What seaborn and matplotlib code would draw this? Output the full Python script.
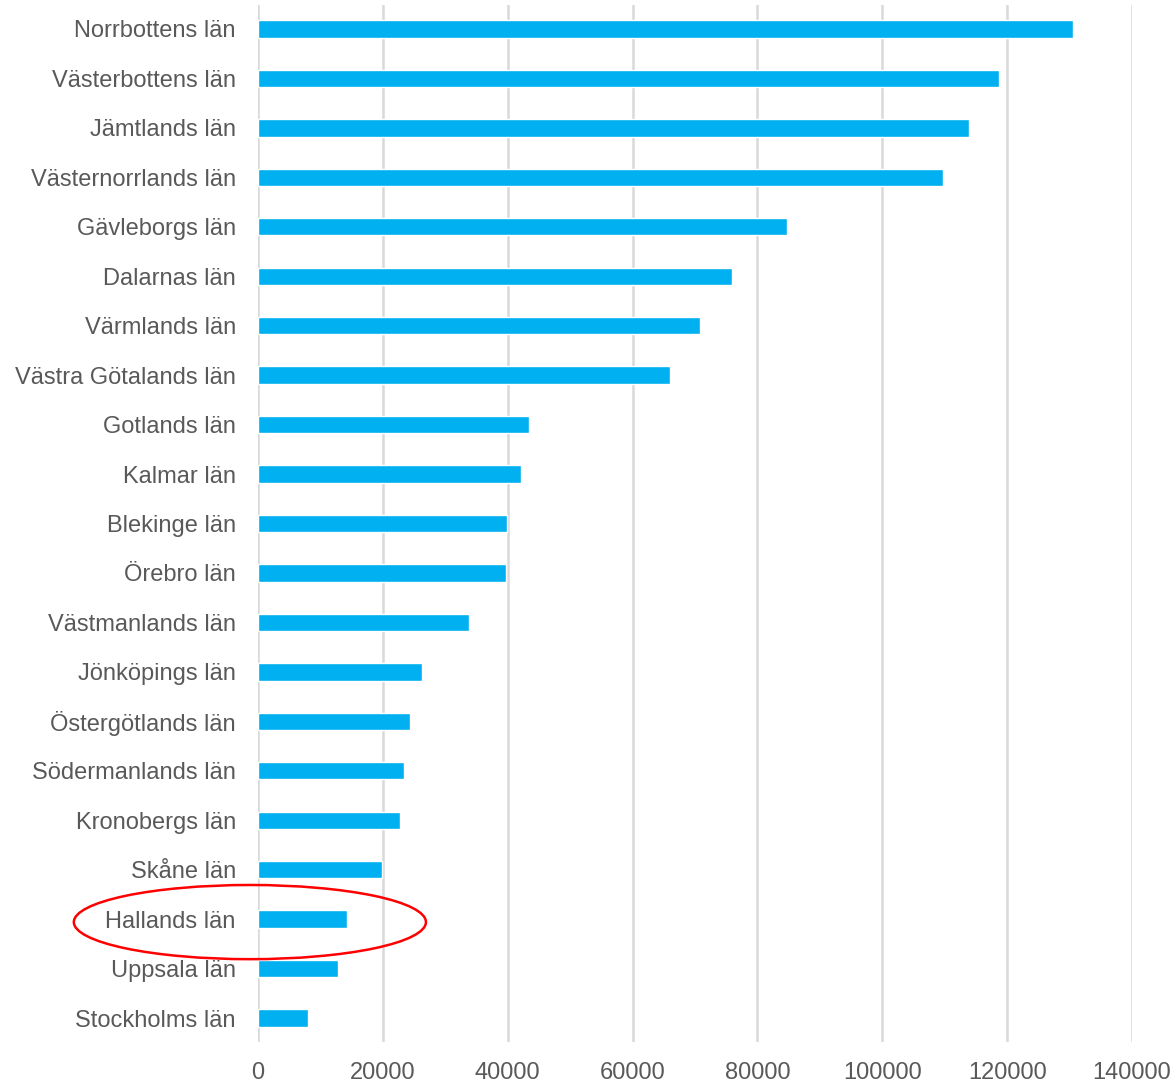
import matplotlib
matplotlib.use("Agg")
import matplotlib.pyplot as plt
from matplotlib.patches import Ellipse
import seaborn as sns
import pandas as pd

counties = [
    "Norrbottens län", "Västerbottens län", "Jämtlands län", "Västernorrlands län",
    "Gävleborgs län", "Dalarnas län", "Värmlands län", "Västra Götalands län",
    "Gotlands län", "Kalmar län", "Blekinge län", "Örebro län",
    "Västmanlands län", "Jönköpings län", "Östergötlands län", "Södermanlands län",
    "Kronobergs län", "Skåne län", "Hallands län", "Uppsala län", "Stockholms län",
]
values = [
    130500, 118700, 113900, 109700,
    84800, 76000, 70800, 66000,
    43400, 42100, 39900, 39800,
    33800, 26300, 24400, 23400,
    22800, 19800, 14300, 12800, 8000,
]
x_ticks = [0, 20000, 40000, 60000, 80000, 100000, 120000, 140000]
highlight = "Hallands län"

df = pd.DataFrame({"county": counties, "value": values})

sns.set_style("white")
plt.rcParams["font.family"] = ["Liberation Sans", "DejaVu Sans"]

text_color = "#595959"
grid_color = "#D9D9D9"

fig = plt.figure(figsize=(11.76, 10.84), dpi=100)
ax = fig.add_axes([258 / 1176, 1 - 1042 / 1084, (1132 - 258) / 1176, (1042 - 5) / 1084])

sns.barplot(data=df, y="county", x="value", orient="h", color="#00B0F0",
            saturation=1, width=0.35, ax=ax, order=counties)

ax.set_xlim(0, 140000)
ax.set_ylim(len(counties) - 0.515, -0.485)
ax.set_xticks(x_ticks)
ax.set_xticklabels([str(t) for t in x_ticks])
ax.set_xlabel("")
ax.set_ylabel("")

for s in ax.spines.values():
    s.set_visible(False)
ax.grid(axis="x", color=grid_color, linewidth=1.8)
ax.set_axisbelow(True)
ax.tick_params(axis="both", length=0, labelsize=17, labelcolor=text_color)
ax.tick_params(axis="y", pad=16)
ax.tick_params(axis="x", pad=14.5)

# red ring around the highlighted county
row = counties.index(highlight)
ax.add_patch(Ellipse((-1300, row + 0.06), width=56400, height=1.5,
                     transform=ax.transData, fill=False, edgecolor="#FF0000",
                     linewidth=1.8, clip_on=False, zorder=5))

fig.savefig("out.png", dpi=100)
